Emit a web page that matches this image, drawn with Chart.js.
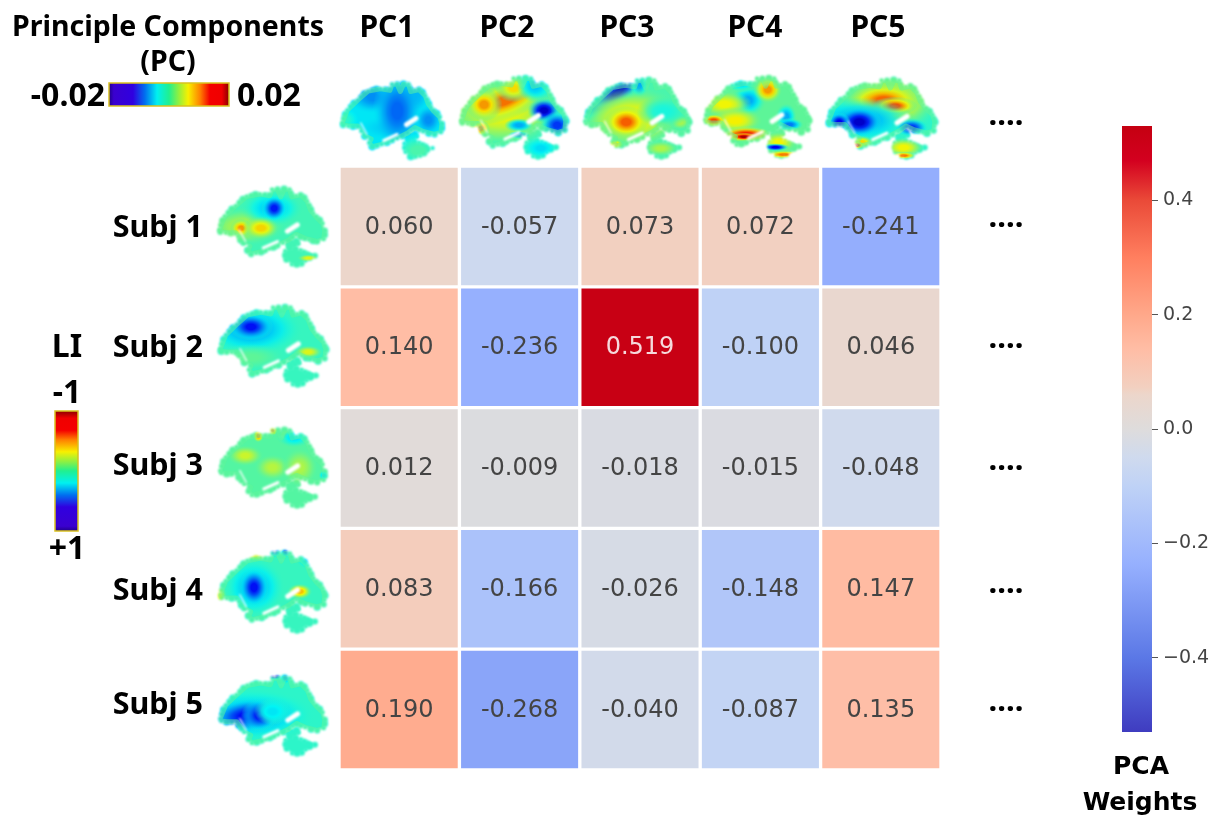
<!DOCTYPE html>
<html>
<head>
<meta charset="utf-8">
<title>PCA weights</title>
<script src="https://cdn.jsdelivr.net/npm/chart.js@4/dist/chart.umd.js"></script>
<style>
  html, body { margin: 0; padding: 0; background: #fff; overflow: hidden; }
  #wrap { position: relative; width: 1213px; height: 816px; }
  canvas { position: absolute; }
  #heatmap { left: 0; top: 0; }
  #colorbar { left: 1060px; top: 0; }
</style>
</head>
<body>
<div id="wrap">
  <canvas id="heatmap" width="1213" height="816"></canvas>
  <canvas id="colorbar" width="153" height="816"></canvas>
</div>
<script>
// data
const components = ['PC1', 'PC2', 'PC3', 'PC4', 'PC5'];
const subjects = ['Subj 1', 'Subj 2', 'Subj 3', 'Subj 4', 'Subj 5'];
const subj1Weights = [0.060, -0.057, 0.073, 0.072, -0.241];
const subj2Weights = [0.140, -0.236, 0.519, -0.100, 0.046];
const subj3Weights = [0.012, -0.009, -0.018, -0.015, -0.048];
const subj4Weights = [0.083, -0.166, -0.026, -0.148, 0.147];
const subj5Weights = [0.190, -0.268, -0.040, -0.087, 0.135];
const weightRows = [subj1Weights, subj2Weights, subj3Weights, subj4Weights, subj5Weights];
const colorbarTicks = [-0.4, -0.2, 0, 0.2, 0.4];
const weightMin = -0.53;
const weightMax = 0.53;

// colour map sampled from the reference colorbar
const cmapValues = [-0.53, -0.4, -0.236, -0.1, -0.05, 0, 0.06, 0.073, 0.14, 0.2, 0.3, 0.4, 0.47, 0.53];
const cmapColors = ['#3f3cc0', '#5b78e6', '#96b0fe', '#bfd2f6', '#cfdaee', '#dedcdc', '#ecd6cb',
  '#f2d0c0', '#ffbda5', '#ffa88a', '#ff7f5f', '#ea4a38', '#d3001f', '#c50011'];

function hexRgb(h) {
  return [1, 3, 5].map(i => parseInt(h.substr(i, 2), 16));
}

function weightColor(v) {
  let i = 0;
  while (i < cmapValues.length - 2 && v > cmapValues[i + 1]) i++;
  const t = Math.min(1, Math.max(0, (v - cmapValues[i]) / (cmapValues[i + 1] - cmapValues[i])));
  const a = hexRgb(cmapColors[i]), b = hexRgb(cmapColors[i + 1]);
  return 'rgb(' + a.map((c, k) => Math.round(c + (b[k] - c) * t)).join(',') + ')';
}

// jet map for the brain pictures
function jet(t, alpha) {
  const f = c => Math.round(245 * Math.min(1, Math.max(0, 1.5 - Math.abs(4 * t - c))));
  return 'rgba(' + f(3) + ',' + f(2) + ',' + f(1) + ',' + (alpha === undefined ? 1 : alpha) + ')';
}

// the small legends have flat bands at both ends
const legendStops = [0, .04, .2, .3, .4, .5, .58, .66, .76, .84, .94, 1];
const legendColors = ['#20008a', '#3a00cf', '#3000e0', '#0070f0', '#00f0f0', '#20f090', '#90f040',
  '#f8f000', '#ff8000', '#f40000', '#f00000', '#8a0000'];

// brain outline in a unit box
const brainOuter = [[.02,.54],[.07,.37],[.17,.24],[.27,.12],[.39,.09],[.48,.11],[.5,.03],[.55,.03],[.58,.125],[.61,.03],[.66,.03],[.68,.125],[.76,.1],[.82,.18],[.85,.29],[.9,.38],[.96,.46],[.98,.55],[.97,.66],[.91,.69],[.8,.65],[.72,.6],[.65,.67],[.55,.74],[.4,.82],[.31,.85],[.28,.8],[.3,.75],[.24,.71],[.17,.58],[.08,.58],[.03,.57]];
const brainLower = [[.62,.81],[.66,.78],[.76,.8],[.82,.86],[.89,.87],[.84,.89],[.77,.97],[.68,.98],[.63,.92]];
const brainStrip = [[.64,.72],[.72,.69],[.74,.72],[.66,.75]];
const brainSlits = [[.42,.77,.55,.69,3], [.64,.56,.73,.48,5], [.2,.54,.26,.69,1.3]];

// box [x, y, w, h], base level, spots [cx, cy, rx, ry, level, angle]
const brains = [
  { box: [340, 82, 104, 76], base: .36, spots: [[.5,.6,.2,.1,.33],[.32,.2,.15,.13,.27],[.7,.2,.1,.15,.3],[.85,.5,.08,.12,.27],[.55,.38,.14,.3,.23],[.05,.5,.08,.1,.42],[.75,.9,.17,.15,.45]] },
  { box: [459, 76, 109, 82], base: .42, spots: [[.38,.42,.38,.3,.62],[.42,.3,.26,.14,.76,-.35],[.5,.15,.1,.1,.65],[.23,.35,.1,.12,.72],[.2,.64,.05,.06,.75],[.78,.42,.09,.09,.08],[.9,.6,.09,.1,.18],[.7,.12,.1,.12,.33],[.55,.6,.08,.05,.3],[.75,.88,.1,.08,.35],[.55,.72,.06,.03,.25]] },
  { box: [583, 78, 108, 80], base: .45, spots: [[.25,.27,.3,.1,.3,-.5],[.32,.18,.16,.08,.08,-.5],[.52,.1,.05,.1,.3],[.45,.5,.3,.24,.62],[.4,.55,.12,.12,.78],[.9,.55,.06,.06,.55],[.75,.42,.15,.12,.4],[.3,.83,.05,.04,.65],[.72,.88,.1,.06,.55]] },
  { box: [703, 76, 108, 81], base: .47, spots: [[.42,.3,.1,.12,.3],[.35,.1,.1,.06,.35],[.6,.17,.08,.1,.72],[.2,.35,.15,.1,.62],[.3,.55,.15,.1,.63],[.1,.55,.07,.05,.8],[.4,.72,.15,.06,.85],[.38,.75,.08,.03,.95],[.77,.5,.06,.1,.3],[.8,.6,.08,.05,.25],[.7,.82,.1,.08,.62],[.67,.88,.08,.03,.12],[.75,.97,.1,.03,.75]] },
  { box: [826, 78, 111, 80], base: .42, spots: [[.55,.3,.3,.24,.66],[.52,.28,.2,.13,.77],[.62,.35,.12,.07,.8],[.3,.53,.3,.17,.3],[.3,.55,.12,.11,.08],[.12,.55,.06,.07,.12],[.77,.62,.09,.07,.18],[.32,.8,.07,.05,.65],[.28,.84,.04,.03,.85],[.7,.87,.12,.08,.62],[.7,.97,.07,.03,.75]] },
  { box: [217, 187, 110, 79], base: .44, spots: [[.25,.5,.23,.15,.55],[.5,.27,.17,.14,.33],[.52,.27,.07,.1,.15,.6],[.22,.52,.06,.07,.72],[.4,.52,.1,.09,.66],[.83,.9,.06,.03,.6]] },
  { box: [218, 305, 110, 81], base: .43, spots: [[.3,.3,.28,.2,.3],[.3,.27,.12,.1,.14],[.82,.58,.08,.05,.6],[.3,.65,.2,.1,.47]] },
  { box: [218, 428, 109, 79], base: .46, spots: [[.37,.1,.03,.05,.72],[.5,.03,.03,.04,.72],[.63,.1,.04,.05,.68],[.25,.35,.1,.08,.58],[.5,.5,.1,.1,.56],[.75,.5,.1,.15,.55],[.7,.12,.1,.08,.36],[.97,.6,.03,.04,.35]] },
  { box: [218, 551, 109, 81], base: .43, spots: [[.33,.45,.17,.22,.31],[.33,.45,.08,.14,.14],[.75,.5,.07,.06,.68],[0,.55,.05,.08,.6],[.35,.05,.07,.05,.58],[.52,0,.04,.05,.25],[.62,0,.03,.05,.25],[.82,.12,.06,.06,.35]] },
  { box: [218, 676, 109, 79], base: .42, spots: [[.3,.5,.35,.2,.3],[.27,.5,.22,.13,.14,-.1],[.38,.5,.1,.12,.15],[.52,0,.04,.03,.12],[.62,.02,.03,.05,.3],[.5,.45,.1,.1,.36]] },
];

function polyPath(c, pts, w, h) {
  c.beginPath();
  pts.forEach((p, i) => i ? c.lineTo(p[0] * w, p[1] * h) : c.moveTo(p[0] * w, p[1] * h));
  c.closePath();
}

// fill the outline and scallop its edge with small round lumps
function lumpyFill(c, pts, w, h) {
  polyPath(c, pts, w, h);
  c.fill();
  let n = 0;
  pts.forEach((p, i) => {
    const q = pts[(i + 1) % pts.length];
    const dx = (q[0] - p[0]) * w, dy = (q[1] - p[1]) * h;
    const steps = Math.max(1, Math.round(Math.hypot(dx, dy) / 5));
    for (let s = 0; s < steps; s++) {
      c.beginPath();
      c.arc(p[0] * w + dx * s / steps, p[1] * h + dy * s / steps, 2.2 + (n++ % 3) * 0.8, 0, Math.PI * 2);
      c.fill();
    }
  });
}

function brainLayer(b) {
  const [, , w, h] = b.box;
  const pad = 6;
  const cv = document.createElement('canvas');
  cv.width = w + pad * 2;
  cv.height = h + pad * 2;
  const c = cv.getContext('2d');
  c.translate(pad, pad);
  c.fillStyle = jet(b.base);
  c.fillRect(-pad, -pad, cv.width, cv.height);
  b.spots.forEach(s => {
    const [cx, cy, rx, ry, level, angle] = s;
    c.save();
    c.translate(cx * w, cy * h);
    c.rotate(angle || 0);
    c.scale(rx * w * 1.7, ry * h * 1.7);
    const g = c.createRadialGradient(0, 0, 0, 0, 0, 1);
    [0, .2, .4, .6, .8, 1].forEach(t => {
      const k = Math.max(0, (t - .2) / .8);
      g.addColorStop(t, jet(level + (b.base - level) * k, t <= .5 ? 1 : 1 - (t - .5) / .5));
    });
    c.fillStyle = g;
    c.beginPath();
    c.arc(0, 0, 1, 0, Math.PI * 2);
    c.fill();
    c.restore();
  });
  // rims go a bit greener, then cut to the outline
  c.strokeStyle = jet(.47, .5);
  c.lineWidth = 5;
  c.lineJoin = 'round';
  polyPath(c, brainOuter, w, h);
  c.stroke();
  const m = document.createElement('canvas');
  m.width = cv.width;
  m.height = cv.height;
  const mc = m.getContext('2d');
  mc.filter = 'blur(0.8px)';
  mc.translate(pad, pad);
  mc.fillStyle = mc.strokeStyle = '#000';
  [brainOuter, brainLower, brainStrip].forEach(p => lumpyFill(mc, p, w, h));
  mc.globalCompositeOperation = 'destination-out';
  mc.lineCap = 'round';
  brainSlits.forEach(s => {
    mc.lineWidth = s[4];
    mc.beginPath();
    mc.moveTo(s[0] * w, s[1] * h);
    mc.lineTo(s[2] * w, s[3] * h);
    mc.stroke();
  });
  c.setTransform(1, 0, 0, 1, 0, 0);
  c.globalCompositeOperation = 'destination-in';
  c.drawImage(m, 0, 0);
  return { cv, pad };
}

function jetBar(ctx, x, y, w, h, vertical) {
  const g = vertical ? ctx.createLinearGradient(0, y + h, 0, y) : ctx.createLinearGradient(x, 0, x + w, 0);
  legendStops.forEach((s, i) => g.addColorStop(s, legendColors[i]));
  ctx.fillStyle = g;
  ctx.fillRect(x, y, w, h);
  ctx.strokeStyle = '#d9c21f';
  ctx.lineWidth = 1.5;
  ctx.strokeRect(x, y, w, h);
}

const boldFont = size => 'bold ' + size + 'px "Noto Sans"';
const pcLabelX = [387, 507, 627, 755, 878];
const subjLabelY = [227, 347, 465, 590, 704];
const dotsY = [122, 224, 345, 467, 590, 708];

const overlay = {
  id: 'overlay',
  afterDraw(chart) {
    const ctx = chart.ctx;
    ctx.save();
    // cell values centred on each bar
    ctx.font = '24px "DejaVu Sans"';
    ctx.textAlign = 'center';
    ctx.textBaseline = 'middle';
    chart.data.datasets.forEach((ds, r) => {
      chart.getDatasetMeta(r).data.forEach((bar, c) => {
        const v = weightRows[r][c];
        ctx.fillStyle = v > 0.4 ? '#f6d9dc' : '#444';
        ctx.fillText(v.toFixed(3), bar.x, bar.getCenterPoint().y + 1);
      });
    });

    ctx.fillStyle = '#000';
    ctx.font = boldFont(30);
    components.forEach((name, i) => ctx.fillText(name, pcLabelX[i], 28));
    ctx.textAlign = 'right';
    ctx.font = boldFont(30.5);
    subjects.forEach((name, i) => ctx.fillText(name, 203, subjLabelY[i] + 1));
    ctx.textAlign = 'center';
    ctx.font = boldFont(28.5);
    ctx.fillText('Principle Components', 168, 28);
    ctx.fillText('(PC)', 168, 63);
    ctx.font = boldFont(32);
    ctx.textAlign = 'right';
    ctx.fillText('-0.02', 105, 97);
    ctx.textAlign = 'left';
    ctx.fillText('0.02', 237, 97);
    ctx.textAlign = 'center';
    ctx.fillText('LI', 67, 348);
    ctx.fillText('-1', 67, 394);
    ctx.fillText('+1', 67, 550);
    ctx.font = boldFont(31);
    dotsY.forEach(y => ctx.fillText('....', 1006, y - 6));

    jetBar(ctx, 109, 83, 120, 23, false);
    jetBar(ctx, 55, 411, 23, 120, true);

    brains.forEach(b => {
      const l = brainLayer(b);
      ctx.drawImage(l.cv, b.box[0] - l.pad, b.box[1] - l.pad);
    });
    ctx.restore();
  }
};

new Chart(document.getElementById('heatmap'), {
  type: 'bar',
  data: {
    labels: components,
    datasets: subjects.map((name, r) => ({
      label: name,
      data: weightRows[r].map(() => [r, r + 1]),
      backgroundColor: weightRows[r].map(weightColor),
      borderColor: '#fff',
      borderWidth: 2,
      borderSkipped: false,
      barPercentage: 1,
      categoryPercentage: 1,
      grouped: false,
    })),
  },
  options: {
    responsive: false,
    animation: false,
    devicePixelRatio: 1,
    layout: { padding: { left: 339, right: 272, top: 166, bottom: 46 } },
    plugins: { legend: { display: false }, tooltip: { enabled: false } },
    scales: {
      x: { display: false },
      y: { display: false, reverse: true, min: 0, max: subjects.length },
    },
  },
  plugins: [overlay],
});

const colorbarTitle = {
  id: 'colorbarTitle',
  afterDraw(chart) {
    const ctx = chart.ctx;
    ctx.save();
    ctx.font = 'bold 25px "DejaVu Sans"';
    ctx.fillStyle = '#000';
    ctx.textAlign = 'center';
    ctx.textBaseline = 'middle';
    ctx.fillText('PCA', 1141 - 1060, 767);
    ctx.fillText('Weights', 1140 - 1060, 803);
    ctx.restore();
  }
};

new Chart(document.getElementById('colorbar'), {
  type: 'bar',
  data: {
    labels: ['PCA Weights'],
    datasets: [{
      data: [[weightMin, weightMax]],
      barPercentage: 1,
      categoryPercentage: 1,
      backgroundColor(context) {
        const area = context.chart.chartArea;
        if (!area) return '#ddd';
        const g = context.chart.ctx.createLinearGradient(0, area.bottom, 0, area.top);
        cmapValues.forEach((v, i) => g.addColorStop((v - weightMin) / (weightMax - weightMin), cmapColors[i]));
        return g;
      },
    }],
  },
  options: {
    responsive: false,
    animation: false,
    devicePixelRatio: 1,
    layout: { padding: { left: 62, right: 0, top: 126, bottom: 84 } },
    plugins: { legend: { display: false }, tooltip: { enabled: false } },
    scales: {
      x: { display: false },
      y: {
        position: 'right',
        min: weightMin,
        max: weightMax,
        afterFit(scale) { scale.width = 61; },
        afterBuildTicks(scale) { scale.ticks = colorbarTicks.map(value => ({ value })); },
        border: { display: false },
        grid: { drawOnChartArea: false, tickLength: 6, tickColor: '#555', tickWidth: 1 },
        ticks: {
          padding: 5,
          color: '#444',
          font: { family: '"DejaVu Sans"', size: 19 },
          callback: v => (v < 0 ? '\u2212' : '') + Math.abs(v).toFixed(1),
        },
      },
    },
  },
  plugins: [colorbarTitle],
});
</script>
</body>
</html>
